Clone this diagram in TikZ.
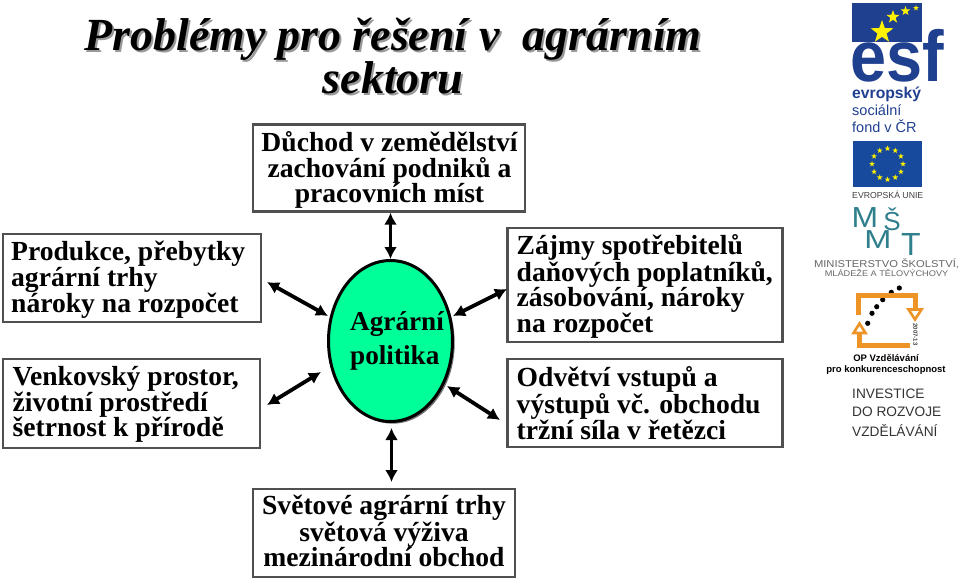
\documentclass[tikz,border=0pt]{standalone}
\usepackage{fontspec}
\setmainfont{Liberation Serif}
\newfontfamily\lsans{Liberation Sans}
\usetikzlibrary{shapes.geometric,arrows.meta,shadows}
\definecolor{esfblue}{HTML}{1F3F8F}
\definecolor{eublue}{HTML}{174A9C}
\definecolor{msteal}{HTML}{2F7F8C}
\definecolor{oporange}{HTML}{EE9427}
\definecolor{polgreen}{HTML}{00FF99}
\definecolor{boxline}{HTML}{505050}
\tikzset{
  x=1pt,y=-1pt,
  topic/.style={draw=boxline,line width=2.4pt,fill=white,inner sep=0pt,
    drop shadow={shadow xshift=1.2pt,shadow yshift=-1.2pt,fill=black!75,opacity=1}},
  topictext/.style={inner sep=0pt,font=\fontsize{27.6}{25.5}\selectfont\bfseries},
  link/.style={line width=3.8pt,{Latex[length=12pt,width=13pt]}-{Latex[length=12pt,width=13pt]}},
  logotext/.style={inner sep=0pt,anchor=west,font=\lsans},
  ystar/.style={star,star points=5,star point ratio=2.5,fill=yellow,inner sep=0pt},
  msletter/.style={inner sep=0pt,anchor=base,text=msteal},
  titletext/.style={inner sep=0pt,align=flush center,font=\fontsize{46}{43}\selectfont\bfseries\itshape},
}
\begin{document}
\begin{tikzpicture}
\useasboundingbox (0,0) rectangle (960,580);
% title
\node[titletext,text=black!40] (titleshadow) at (395,58) {Problémy pro řešení v\ \ agrárním\\sektoru};
\node[titletext] (title) at (393,56) {Problémy pro řešení v\ \ agrárním\\sektoru};
% boxes
\node[topic,minimum width=272pt,minimum height=87pt] (top) at (389,168) {};
\node[topictext,align=flush center] (topT) at (389.5,170) {Důchod v zemědělství\\zachování podniků a\\pracovních míst};
\node[topic,minimum width=258pt,minimum height=88pt] (prod) at (132,278) {};
\node[topictext,align=flush left,anchor=west] (prodT) at (11,280) {Produkce, přebytky\\agrární trhy\\nároky na rozpočet};
\node[topic,minimum width=257pt,minimum height=89pt] (venk) at (131.5,403.5) {};
\node[topictext,align=flush left,anchor=west] (venkT) at (12.5,404.5) {Venkovský prostor,\\životní prostředí\\šetrnost k přírodě};
\node[topic,minimum width=275pt,minimum height=114pt] (zajmy) at (645,285) {};
\node[topictext,align=flush left,anchor=west] (zajmyT) at (516.5,286) {Zájmy spotřebitelů\\daňových poplatníků,\\zásobování, nároky\\na rozpočet};
\node[topic,minimum width=275pt,minimum height=88pt] (odv) at (645,403) {};
\node[topictext,align=flush left,anchor=west] (odvT) at (516.5,403) {Odvětví vstupů a\\výstupů vč. obchodu\\tržní síla v řetězci};
\node[topic,minimum width=262pt,minimum height=88pt] (svet) at (384,533) {};
\node[topictext,align=flush center] (svetT) at (384,531) {Světové agrární trhy\\světová výživa\\mezinárodní obchod};
% ellipse
\node[ellipse,draw=black,line width=3pt,fill=polgreen,minimum width=124pt,minimum height=161pt,inner sep=0pt,
  drop shadow={shadow xshift=2.2pt,shadow yshift=-2.2pt,fill=black!55,opacity=1}] (pol) at (390.5,341) {};
\node[inner sep=0pt,align=flush left,anchor=west,font=\fontsize{27.2}{34}\selectfont\bfseries] (polT) at (350,341) {Agrární\\politika};
% connector ends
\coordinate (a1) at (267,282);
\coordinate (a2) at (328,316);
\coordinate (b1) at (507,289);
\coordinate (b2) at (453,316);
\coordinate (c1) at (267,405);
\coordinate (c2) at (321,372);
\coordinate (d1) at (447,386);
\coordinate (d2) at (500,420);
\coordinate (e1) at (391.5,428);
\coordinate (e2) at (391.5,482);
\draw[link] (top.south -| pol.north) -- (pol.north);
\draw[link] (a1) -- (a2);
\draw[link] (b1) -- (b2);
\draw[link] (c1) -- (c2);
\draw[link] (d1) -- (d2);
\draw[link] (e1) -- (e2);
% ESF logo
\fill[esfblue] (852,3) rectangle (922,42);
\node[ystar,minimum size=24pt] (s1) at (882,32) {};
\node[ystar,minimum size=14pt] (s2) at (893,17) {};
\node[ystar,minimum size=10pt] (s3) at (905.5,11) {};
\node[ystar,minimum size=6pt] (s4) at (916,8) {};
\node[inner sep=0pt,text=esfblue,anchor=base west,xscale=.9,font=\lsans\bfseries\fontsize{72}{72}\selectfont] (esf) at (850,82) {esf};
\node[logotext,text=esfblue,font=\lsans\bfseries\fontsize{15.7}{15}\selectfont] (t1) at (852,94) {evropský};
\node[logotext,text=esfblue,font=\lsans\fontsize{14.5}{15}\selectfont] (t2) at (852,110) {sociální};
\node[logotext,text=esfblue,font=\lsans\fontsize{14.5}{15}\selectfont] (t3) at (852,126) {fond v ČR};
% EU flag
\fill[eublue] (853,141) rectangle (922,187);
\foreach \i in {0,30,...,330}
  \node[ystar,minimum size=6pt] at ({887.5+15.5*cos(\i)},{164+15.5*sin(\i)}) {};
\node[logotext,text=black!75,font=\lsans\fontsize{8.7}{9}\selectfont] (t4) at (852,194.5) {EVROPSKÁ UNIE};
% MSMT
\node[msletter,xscale=1.1,font=\lsans\fontsize{29}{29}\selectfont] (m1) at (865,227) {M};
\node[msletter,font=\lsans\fontsize{26}{26}\selectfont] (s) at (892,230) {Š};
\node[msletter,xscale=1.25,font=\lsans\fontsize{26}{26}\selectfont] (m2) at (878,248) {M};
\node[msletter,font=\lsans\fontsize{32}{32}\selectfont] (tt) at (911,255) {T};
\node[inner sep=0pt,xscale=1.12,text=black!60,font=\lsans\fontsize{10}{10}\selectfont] (t5) at (886.5,264) {MINISTERSTVO ŠKOLSTVÍ,};
\node[inner sep=0pt,xscale=1.12,text=black!60,font=\lsans\fontsize{8.2}{9}\selectfont] (t6) at (886.5,273) {MLÁDEŽE A TĚLOVÝCHOVY};
% OP
\foreach \px/\py in {899.3/288,891.3/292.3,882.7/299.7,876.7/306.7,872/313.3,867.7/323.3}
  \fill (\px,\py) circle (2.6pt);
\draw[oporange,line width=5pt,line join=miter] (858,315) -- (858,295) -- (915,295) -- (915,309);
\draw[oporange,line width=5pt,line join=miter] (859.5,333) -- (859.5,345) -- (910,345);
\draw[oporange,line width=2.6pt,fill=white,line join=miter] (908.5,309.5) -- (921.5,309.5) -- (915,319.5) -- cycle;
\draw[oporange,line width=2.6pt,fill=white,line join=miter] (853.5,333) -- (865.5,333) -- (859.5,323.5) -- cycle;
\node[inner sep=0pt,rotate=-90,text=black!75,font=\lsans\bfseries\fontsize{6}{6}\selectfont] (yr) at (915.5,334.5) {2007-13};
\node[inner sep=0pt,font=\lsans\bfseries\fontsize{9.5}{10}\selectfont] (t7) at (886,358) {OP Vzdělávání};
\node[inner sep=0pt,font=\lsans\bfseries\fontsize{9.5}{10}\selectfont] (t8) at (886,370) {pro konkurenceschopnost};
\node[logotext,text=black!80,font=\lsans\fontsize{13.7}{14}\selectfont] (t9) at (852,393.5) {INVESTICE};
\node[logotext,text=black!80,font=\lsans\fontsize{13.7}{14}\selectfont] (t10) at (852,411.5) {DO ROZVOJE};
\node[logotext,text=black!80,font=\lsans\fontsize{13.7}{14}\selectfont] (t11) at (852,430.5) {VZDĚLÁVÁNÍ};
\end{tikzpicture}
\end{document}
